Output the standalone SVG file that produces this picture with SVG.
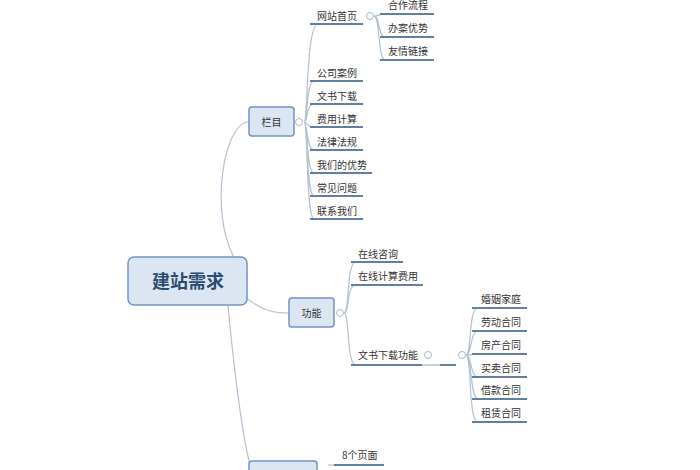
<svg xmlns="http://www.w3.org/2000/svg" width="700" height="470" viewBox="0 0 700 470">
<style>
.t{font-family:"Noto Sans CJK SC","Liberation Sans",sans-serif;font-size:10px;fill:#333}
.n{fill:#dce6f2;stroke:#7094c2;stroke-width:1.5}
.u{stroke:#5f7fa5;stroke-width:2;fill:none}
.c{stroke:#b4c2d2;stroke-width:1.2;fill:none}
.k{fill:#fff;stroke:#aab6c4;stroke-width:1}
</style>
<rect width="700" height="470" fill="#fff"/>
<g id="connectors">
<path class="c" d="M248 275 C205 240 220 122 249 122"/>
<path class="c" d="M246 298 C265 312 275 313 289 313"/>
<path class="c" d="M228 306 C235 380 245 455 252 470"/>
<path class="c" d="M304 122 C308 122 306 24 318 24 M304 122 C308 122 306 81 314 81 M304 122 C308 122 306 104 314 104 M304 122 C308 122 306 127 314 127 M304 122 C308 122 306 150 314 150 M304 122 C308 122 306 173 314 173 M304 122 C308 122 306 196 314 196 M304 122 C308 122 306 219 314 219"/>
<path class="c" d="M374 16 C380 16 377 14 385 14 M374 16 C380 16 378 37 385 37 M374 16 C380 16 378 60 385 60"/>
<path class="c" d="M344 313 C350 313 346 262 356 262 M344 313 C350 313 346 285 356 285 M344 313 C350 313 346 365 356 365"/>
<path class="c" d="M466 355 C472 355 468 308 478 308 M466 355 C472 355 470 331 478 331 M466 355 C472 355 470 354 478 354 M466 355 C472 355 470 377 478 377 M466 355 C472 355 470 399 478 399 M466 355 C472 355 468 422 478 422"/>
<path class="c" d="M328 465 C332 465 334 465 340 465"/>
</g>
<g id="root"><rect class="n" x="128" y="257" width="119" height="48" rx="6" stroke-width="3"/><text x="188" y="288" text-anchor="middle" font-family="Noto Sans CJK SC,sans-serif" font-size="18" font-weight="bold" fill="#2d4b70">建站需求</text></g>
<g id="lanmu"><rect class="n" x="249" y="107" width="45" height="29" rx="3"/><text class="t" x="271.5" y="126" text-anchor="middle" font-size="12">栏目</text><circle class="k" cx="299" cy="122" r="3.5"/></g>
<g id="lanmu-items">
<path class="u" d="M310 24H363 M310 81H363 M310 104H363 M310 127H363 M310 150H363 M310 173H372 M310 196H363 M310 219H363"/>
<text class="t" x="317" y="20">网站首页</text><circle class="k" cx="370" cy="16" r="3.5"/>
<text class="t" x="317" y="77">公司案例</text><text class="t" x="317" y="100">文书下载</text><text class="t" x="317" y="123">费用计算</text><text class="t" x="317" y="146">法律法规</text><text class="t" x="317" y="169">我们的优势</text><text class="t" x="317" y="192">常见问题</text><text class="t" x="317" y="215">联系我们</text>
<path class="u" d="M380 14H434 M380 37H434 M380 60H434"/>
<text class="t" x="388" y="9">合作流程</text><text class="t" x="388" y="32">办案优势</text><text class="t" x="388" y="55">友情链接</text>
</g>
<g id="gongneng"><rect class="n" x="289" y="298" width="45" height="29" rx="3"/><text class="t" x="311.5" y="317" text-anchor="middle" font-size="12">功能</text><circle class="k" cx="340" cy="313" r="3.5"/></g>
<g id="gongneng-items">
<path class="u" d="M351 262H403 M351 285H423 M351 365H422"/>
<path d="M422 365H440" stroke="#b4c2d2" stroke-width="1.5"/><path class="u" d="M440 365H456"/>
<text class="t" x="358" y="258">在线咨询</text><text class="t" x="358" y="280">在线计算费用</text><text class="t" x="358" y="359">文书下载功能</text>
<circle class="k" cx="428" cy="355" r="3.5"/><circle class="k" cx="462" cy="355" r="3.5"/>
<path class="u" d="M472 308H527 M472 331H527 M472 354H527 M472 377H527 M472 399H527 M472 422H527"/>
<text class="t" x="481" y="303">婚姻家庭</text><text class="t" x="481" y="326">劳动合同</text><text class="t" x="481" y="349">房产合同</text><text class="t" x="481" y="372">买卖合同</text><text class="t" x="481" y="394">借款合同</text><text class="t" x="481" y="417">租赁合同</text>
</g>
<g id="third"><rect class="n" x="249" y="461" width="68" height="20" rx="3"/><path class="u" d="M334 465H384"/><text class="t" x="342" y="459">8个页面</text></g>
</svg>
